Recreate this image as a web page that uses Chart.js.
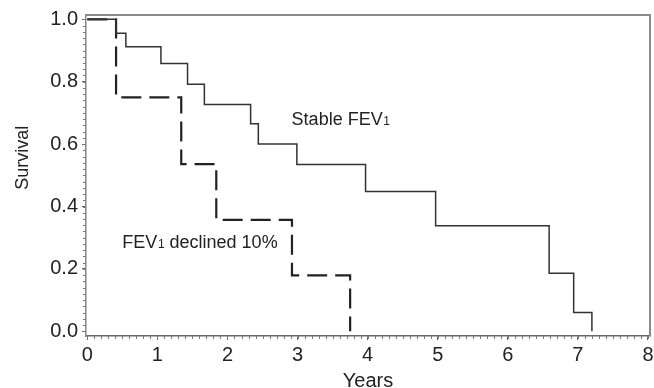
<!DOCTYPE html>
<html><head><meta charset="utf-8">
<script src="https://cdn.jsdelivr.net/npm/chart.js@4.4.0/dist/chart.umd.min.js"></script>
<style>html,body{margin:0;padding:0;background:#fff;} #wrap{width:654px;height:388px;position:relative;}</style>
</head><body><div id="wrap"><canvas id="c" width="654" height="388"></canvas></div>
<script>
const stableYears = [0, 0.41, 0.55, 1.05, 1.43, 1.67, 2.33, 2.44, 2.99, 3.97, 4.97, 6.59, 6.94, 7.20];
const stableSurvival = [1.0, 0.955, 0.912, 0.858, 0.792, 0.727, 0.665, 0.600, 0.535, 0.448, 0.338, 0.186, 0.060, 0.0];
const declinedYears = [0, 0.41, 1.34, 1.84, 2.92, 3.75];
const declinedSurvival = [1.0, 0.75, 0.536, 0.357, 0.179, 0.0];
const xTicks = [0, 1, 2, 3, 4, 5, 6, 7, 8];
const yTicks = [0.0, 0.2, 0.4, 0.6, 0.8, 1.0];
const xMinorStep = 0.1;
const yMinorStep = 0.02;
const curveLabels = [
  {text: 'Stable FEV', sub: '1', tail: '', x: 2.915, y: 0.661},
  {text: 'FEV', sub: '1', tail: ' declined 10%', x: 0.50, y: 0.267}
];
const xTitle = 'Years';
const yTitle = 'Survival';

const FONT = '"Liberation Sans", Arial, sans-serif';
const TXT = '#222';

const toPoints = (xs, ys) => xs.map((v, i) => ({x: v, y: ys[i]}));

const decoPlugin = {
  id: 'deco',
  afterDraw(chart) {
    const {ctx, chartArea: a, scales: {x, y}} = chart;
    ctx.save();
    // top and right frame
    ctx.strokeStyle = '#8a8a8a';
    ctx.lineWidth = 2;
    ctx.beginPath();
    ctx.moveTo(a.left, a.top);
    ctx.lineTo(a.right, a.top);
    ctx.lineTo(a.right, a.bottom);
    ctx.stroke();
    // minor ticks
    ctx.strokeStyle = '#777';
    ctx.lineWidth = 1;
    ctx.beginPath();
    const nx = Math.round((xTicks[xTicks.length - 1] - xTicks[0]) / xMinorStep);
    for (let i = 0; i <= nx; i++) {
      const v = xTicks[0] + i * xMinorStep;
      const px = Math.round(x.getPixelForValue(v)) + 0.5;
      ctx.moveTo(px, a.bottom);
      ctx.lineTo(px, a.bottom + 3);
    }
    const ny = Math.round((yTicks[yTicks.length - 1] - yTicks[0]) / yMinorStep);
    for (let i = 0; i <= ny; i++) {
      const v = yTicks[0] + i * yMinorStep;
      const py = Math.round(y.getPixelForValue(v)) + 0.5;
      ctx.moveTo(a.left, py);
      ctx.lineTo(a.left - 3, py);
    }
    ctx.stroke();
    // curve labels
    ctx.fillStyle = TXT;
    ctx.textBaseline = 'alphabetic';
    ctx.textAlign = 'left';
    curveLabels.forEach(l => {
      let px = x.getPixelForValue(l.x);
      const py = y.getPixelForValue(l.y);
      ctx.font = '18px ' + FONT;
      ctx.fillText(l.text, px, py);
      px += ctx.measureText(l.text).width + 0.5;
      ctx.font = '12px ' + FONT;
      ctx.fillText(l.sub, px, py);
      px += ctx.measureText(l.sub).width;
      if (l.tail) {
        ctx.font = '18px ' + FONT;
        ctx.fillText(l.tail, px, py);
      }
    });
    // axis titles
    ctx.font = '20px ' + FONT;
    ctx.textAlign = 'center';
    ctx.fillText(xTitle, (a.left + a.right) / 2, 387);
    ctx.save();
    ctx.translate(28, a.top + (a.bottom - a.top) * 0.445);
    ctx.rotate(-Math.PI / 2);
    ctx.font = '18px ' + FONT;
    ctx.fillText(yTitle, 0, 0);
    ctx.restore();
    ctx.restore();
  }
};

new Chart(document.getElementById('c'), {
  type: 'line',
  data: {
    datasets: [
      {
        label: 'Stable FEV1',
        data: toPoints(stableYears, stableSurvival),
        stepped: true,
        borderColor: '#333',
        borderWidth: 1.5,
        pointRadius: 0,
        fill: false
      },
      {
        label: 'FEV1 declined 10%',
        data: toPoints(declinedYears, declinedSurvival),
        stepped: true,
        borderColor: '#222',
        borderWidth: 2.2,
        borderDash: [20, 8],
        pointRadius: 0,
        fill: false
      }
    ]
  },
  options: {
    responsive: false,
    animation: false,
    devicePixelRatio: 1,
    layout: {padding: {left: 0, right: 4, top: 15, bottom: 0}},
    plugins: {legend: {display: false}, tooltip: {enabled: false}},
    scales: {
      x: {
        type: 'linear',
        min: -0.019,
        max: 8.029,
        afterBuildTicks: s => { s.ticks = xTicks.map(v => ({value: v})); },
        afterFit: s => { s.height = 52; s.paddingLeft = 0; s.paddingRight = 0; },
        grid: {drawOnChartArea: false, drawTicks: true, tickLength: 4, tickColor: '#666', tickWidth: 1},
        border: {display: true, color: '#666', width: 1.5},
        ticks: {color: TXT, font: {family: FONT, size: 20}, padding: 3, maxRotation: 0, autoSkip: false,
          callback: v => String(v)}
      },
      y: {
        type: 'linear',
        min: -0.015,
        max: 1.0138,
        afterBuildTicks: s => { s.ticks = yTicks.map(v => ({value: v})); },
        afterFit: s => { s.width = 86; s.paddingTop = 0; s.paddingBottom = 0; },
        grid: {drawOnChartArea: false, drawTicks: true, tickLength: 4, tickColor: '#666', tickWidth: 1},
        border: {display: true, color: '#888', width: 1.5},
        ticks: {color: TXT, font: {family: FONT, size: 20}, padding: 4, autoSkip: false,
          callback: v => Number(v).toFixed(1)}
      }
    }
  },
  plugins: [decoPlugin]
});
</script>
</body></html>
